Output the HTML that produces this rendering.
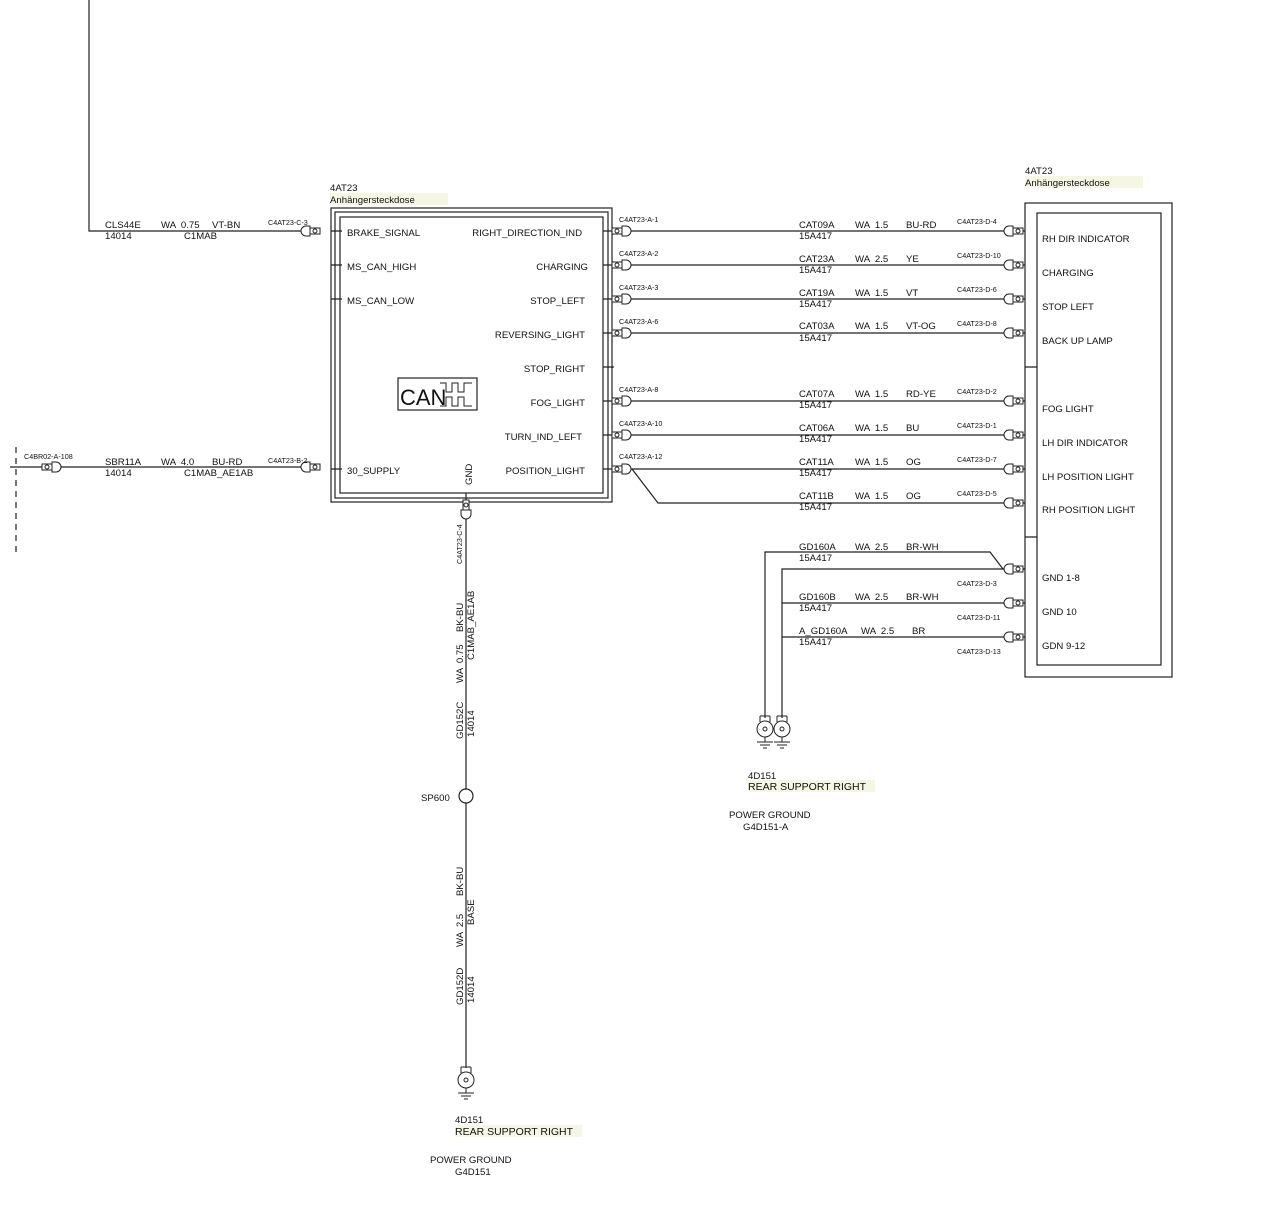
<!DOCTYPE html>
<html><head><meta charset="utf-8"><style>
html,body{margin:0;padding:0;background:#fff;}
svg{display:block;font-family:"Liberation Sans",sans-serif;}
text{fill:#111;white-space:pre;}
.s{font-size:9.6px;}
.t{font-size:7.2px;}
.m{font-size:10.5px;}
</style></head><body>
<svg width="1285" height="1223" viewBox="0 0 1285 1223" xmlns="http://www.w3.org/2000/svg" xml:space="preserve">
<defs>
<g id="cl" fill="#fff" stroke="#222" stroke-width="1">
<rect x="-12" y="-3" width="10" height="6"/><circle cx="-7" cy="0" r="2"/>
<path d="M-2,-5 H2 A5,5 0 0 1 2,5 H-2 Z"/>
</g>
<g id="cr" fill="#fff" stroke="#222" stroke-width="1">
<rect x="2" y="-3" width="10" height="6"/><circle cx="7" cy="0" r="2"/>
<path d="M2,-5 H-2 A5,5 0 0 0 -2,5 H2 Z"/>
</g>
<g id="gnd" fill="#fff" stroke="#222" stroke-width="1">
<path d="M-5,0 V6 M5,0 V6 M-5,0 H5"/>
<circle cx="0" cy="13" r="8"/><circle cx="0" cy="13" r="2"/>
<path d="M0,21 V26 M-8,26 H8 M-5,29 H5 M-2,32 H2"/>
</g>
</defs>
<g stroke="#222" stroke-width="1.2" fill="none">
<path d="M89,0 V231 H320"/>
<path d="M10,467 H320"/>
<path d="M16,447 V557" stroke-dasharray="6,5"/>
<rect x="331" y="208" width="281" height="294"/>
<rect x="335" y="212" width="273" height="286"/>
<rect x="340" y="217" width="263" height="276"/>
<path d="M331,231H342 M331,265H342 M331,299H342 M331,469H342"/>
<path d="M603,231H614 M603,265H614 M603,299H614 M603,333H614 M603,367H614 M603,401H614 M603,435H614 M603,469H614"/>
<rect x="398" y="378" width="79" height="32"/>
<rect x="1025" y="203" width="147" height="474"/>
<rect x="1037" y="213" width="124" height="452"/>
<path d="M1025,367H1037 M1025,537H1037"/>
<path d="M612,231H1025 M612,265H1025 M612,299H1025 M612,333H1025 M612,401H1025 M612,435H1025 M612,469H1025"/>
<path d="M632,469 L658,503 H1025"/>
<path d="M765,718 V552 H990 L1003,569 H1025"/>
<path d="M782,718 V569 H1025 M782,603 H1025"/>
<path d="M782,637 H1025"/>
<path d="M466,493 V1068"/>
<circle cx="466" cy="796" r="7" fill="#fff"/>
</g>
<text x="400" y="405" style="font-size:22px">CAN</text>
<path d="M440,383 H446 V392 H452 V383 H458 V392 H464 V383 H472 M440,406 H446 V397 H452 V406 H458 V397 H464 V406 H472" stroke="#222" fill="none"/>
<use href="#cr" x="308" y="231"/><use href="#cr" x="308" y="467"/>
<use href="#cr" x="30" y="467" transform="rotate(180 42 467)"/>
<use href="#cl" x="624" y="231"/><use href="#cl" x="624" y="265"/><use href="#cl" x="624" y="299"/><use href="#cl" x="624" y="333"/>
<use href="#cl" x="624" y="401"/><use href="#cl" x="624" y="435"/><use href="#cl" x="624" y="469"/>
<use href="#cr" x="1011" y="231"/><use href="#cr" x="1011" y="265"/><use href="#cr" x="1011" y="299"/><use href="#cr" x="1011" y="333"/>
<use href="#cr" x="1011" y="401"/><use href="#cr" x="1011" y="435"/><use href="#cr" x="1011" y="469"/><use href="#cr" x="1011" y="503"/>
<use href="#cr" x="1011" y="569"/><use href="#cr" x="1011" y="603"/><use href="#cr" x="1011" y="637"/>
<use href="#cl" x="466" y="512" transform="rotate(90 466 512)"/>
<use href="#gnd" x="765" y="716"/><use href="#gnd" x="782" y="716"/>
<use href="#gnd" x="466" y="1067"/>
<text class="s" x="330" y="191">4AT23</text>
<rect x="330" y="193" width="118" height="12" fill="#f6f6e4"/>
<text class="s" x="330" y="203">Anhängersteckdose</text>
<text class="s" x="347" y="236">BRAKE_SIGNAL</text>
<text class="s" x="347" y="270">MS_CAN_HIGH</text>
<text class="s" x="347" y="304">MS_CAN_LOW</text>
<text class="s" x="347" y="474">30_SUPPLY</text>
<g text-anchor="end">
<text class="s" x="582" y="236">RIGHT_DIRECTION_IND</text>
<text class="s" x="588" y="270">CHARGING</text>
<text class="s" x="585" y="304">STOP_LEFT</text>
<text class="s" x="585" y="338">REVERSING_LIGHT</text>
<text class="s" x="585" y="372">STOP_RIGHT</text>
<text class="s" x="585" y="406">FOG_LIGHT</text>
<text class="s" x="582" y="440">TURN_IND_LEFT</text>
<text class="s" x="585" y="474">POSITION_LIGHT</text>
</g>
<text class="s" transform="translate(472,485) rotate(-90)">GND</text>
<text class="s" x="105" y="228">CLS44E</text><text class="s" x="105" y="239">14014</text>
<text class="s" x="161" y="228">WA  0.75</text><text class="s" x="212" y="228">VT-BN</text>
<text class="s" x="184" y="239">C1MAB</text>
<text class="t" x="268" y="225">C4AT23-C-3</text>
<text class="s" x="105" y="465">SBR11A</text><text class="s" x="105" y="476">14014</text>
<text class="s" x="161" y="465">WA  4.0</text><text class="s" x="212" y="465">BU-RD</text>
<text class="s" x="184" y="476">C1MAB_AE1AB</text>
<text class="t" x="268" y="463">C4AT23-B-2</text>
<text class="t" x="24" y="459">C4BR02-A-108</text>
<g class="t">
<text x="619" y="222">C4AT23-A-1</text><text x="619" y="256">C4AT23-A-2</text><text x="619" y="290">C4AT23-A-3</text><text x="619" y="324">C4AT23-A-6</text>
<text x="619" y="392">C4AT23-A-8</text><text x="619" y="426">C4AT23-A-10</text><text x="619" y="459">C4AT23-A-12</text>
<text x="957" y="224">C4AT23-D-4</text><text x="957" y="258">C4AT23-D-10</text><text x="957" y="292">C4AT23-D-6</text><text x="957" y="326">C4AT23-D-8</text>
<text x="957" y="394">C4AT23-D-2</text><text x="957" y="428">C4AT23-D-1</text><text x="957" y="462">C4AT23-D-7</text><text x="957" y="496">C4AT23-D-5</text>
<text x="957" y="586">C4AT23-D-3</text><text x="957" y="620">C4AT23-D-11</text><text x="957" y="654">C4AT23-D-13</text>
</g>
<g class="s">
<text x="799" y="228">CAT09A</text><text x="799" y="239">15A417</text><text x="855" y="228">WA  1.5</text><text x="906" y="228">BU-RD</text>
<text x="799" y="262">CAT23A</text><text x="799" y="273">15A417</text><text x="855" y="262">WA  2.5</text><text x="906" y="262">YE</text>
<text x="799" y="296">CAT19A</text><text x="799" y="307">15A417</text><text x="855" y="296">WA  1.5</text><text x="906" y="296">VT</text>
<text x="799" y="329">CAT03A</text><text x="799" y="341">15A417</text><text x="855" y="329">WA  1.5</text><text x="906" y="329">VT-OG</text>
<text x="799" y="397">CAT07A</text><text x="799" y="408">15A417</text><text x="855" y="397">WA  1.5</text><text x="906" y="397">RD-YE</text>
<text x="799" y="431">CAT06A</text><text x="799" y="442">15A417</text><text x="855" y="431">WA  1.5</text><text x="906" y="431">BU</text>
<text x="799" y="465">CAT11A</text><text x="799" y="476">15A417</text><text x="855" y="465">WA  1.5</text><text x="906" y="465">OG</text>
<text x="799" y="499">CAT11B</text><text x="799" y="510">15A417</text><text x="855" y="499">WA  1.5</text><text x="906" y="499">OG</text>
<text x="799" y="550">GD160A</text><text x="799" y="561">15A417</text><text x="855" y="550">WA  2.5</text><text x="906" y="550">BR-WH</text>
<text x="799" y="600">GD160B</text><text x="799" y="611">15A417</text><text x="855" y="600">WA  2.5</text><text x="906" y="600">BR-WH</text>
<text x="799" y="634">A_GD160A</text><text x="799" y="645">15A417</text><text x="861" y="634">WA  2.5</text><text x="912" y="634">BR</text>
</g>
<text class="s" x="1025" y="174">4AT23</text>
<rect x="1025" y="176" width="118" height="12" fill="#f6f6e4"/>
<text class="s" x="1025" y="186">Anhängersteckdose</text>
<g class="s">
<text x="1042" y="242">RH DIR INDICATOR</text><text x="1042" y="276">CHARGING</text><text x="1042" y="310">STOP LEFT</text><text x="1042" y="344">BACK UP LAMP</text>
<text x="1042" y="412">FOG LIGHT</text><text x="1042" y="446">LH DIR INDICATOR</text><text x="1042" y="480">LH POSITION LIGHT</text><text x="1042" y="513">RH POSITION LIGHT</text>
<text x="1042" y="581">GND 1-8</text><text x="1042" y="615">GND 10</text><text x="1042" y="649">GDN 9-12</text>
</g>
<text class="s" x="748" y="779">4D151</text>
<rect x="748" y="780" width="127" height="12" fill="#f6f6e4"/>
<text class="m" x="748" y="790">REAR SUPPORT RIGHT</text>
<text class="s" x="729" y="818">POWER GROUND</text><text class="s" x="743" y="830">G4D151-A</text>
<g class="s">
<text transform="translate(462,564) rotate(-90)" class="t">C4AT23-C-4</text>
<text transform="translate(463,632) rotate(-90)">BK-BU</text>
<text transform="translate(463,683) rotate(-90)">WA  0.75</text>
<text transform="translate(474,660) rotate(-90)">C1MAB_AE1AB</text>
<text transform="translate(463,739) rotate(-90)">GD152C</text>
<text transform="translate(474,737) rotate(-90)">14014</text>
<text x="421" y="801">SP600</text>
<text transform="translate(463,896) rotate(-90)">BK-BU</text>
<text transform="translate(463,947) rotate(-90)">WA  2.5</text>
<text transform="translate(474,925) rotate(-90)">BASE</text>
<text transform="translate(463,1005) rotate(-90)">GD152D</text>
<text transform="translate(474,1003) rotate(-90)">14014</text>
<text x="455" y="1123">4D151</text>
</g>
<rect x="455" y="1125" width="127" height="12" fill="#f6f6e4"/>
<text class="m" x="455" y="1135">REAR SUPPORT RIGHT</text>
<text class="s" x="430" y="1163">POWER GROUND</text><text class="s" x="455" y="1175">G4D151</text>
</svg>
</body></html>
